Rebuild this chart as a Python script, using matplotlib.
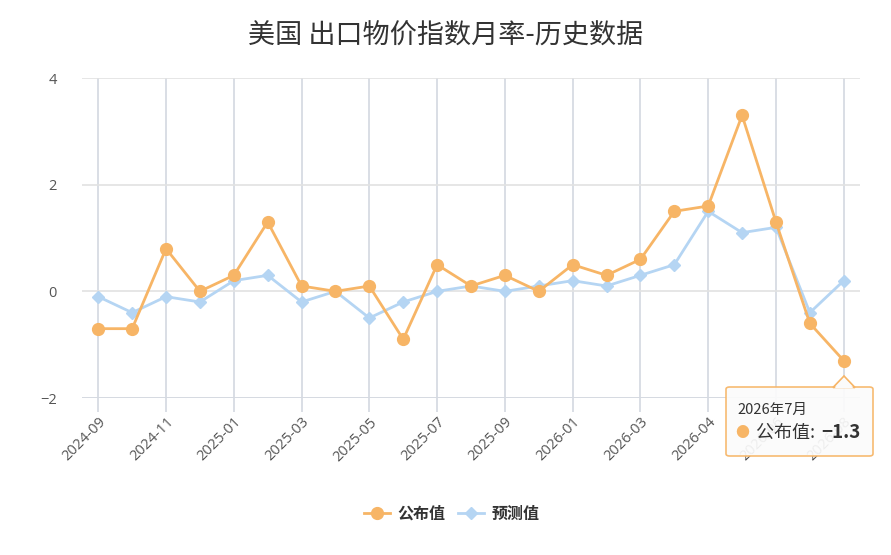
import matplotlib
matplotlib.use("Agg")
import matplotlib.pyplot as plt
from matplotlib.patches import FancyBboxPatch, Polygon
from matplotlib.lines import Line2D

plt.rcParams['font.family'] = ['Noto Sans CJK SC', 'DejaVu Sans']
plt.rcParams['axes.unicode_minus'] = True

categories = ["2024-09", "2024-10", "2024-11", "2024-12", "2025-01", "2025-02",
              "2025-03", "2025-04", "2025-05", "2025-06", "2025-07", "2025-08",
              "2025-09", "2025-10", "2026-01", "2026-02", "2026-03", "2026-03",
              "2026-04", "2026-05", "2026-06", "2026-07", "2026-08"]
published = [-0.7, -0.7, 0.8, 0.0, 0.3, 1.3, 0.1, 0.0, 0.1, -0.9, 0.5, 0.1,
             0.3, 0.0, 0.5, 0.3, 0.6, 1.5, 1.6, 3.3, 1.3, -0.6, -1.3]
forecast = [-0.1, -0.4, -0.1, -0.2, 0.2, 0.3, -0.2, 0.0, -0.5, -0.2, 0.0, 0.1,
            0.0, 0.1, 0.2, 0.1, 0.3, 0.5, 1.5, 1.1, 1.2, -0.4, 0.2]
yticks = [-2, 0, 2, 4]
title = "美国 出口物价指数月率-历史数据"
series_names = ["公布值", "预测值"]
tooltip_date = "2026年7月"

ORANGE = "#F7B566"
BLUE = "#B5D5F3"
W, H = 891, 555

fig = plt.figure(figsize=(W / 100, H / 100), dpi=100)
ax = fig.add_axes([82 / W, 1 - 398 / H, (860 - 82) / W, (398 - 78) / H])

x = list(range(len(categories)))
ax.plot(x, forecast, color=BLUE, lw=2, marker="D", ms=6.5, zorder=3)
ax.plot(x, published, color=ORANGE, lw=2, marker="o", ms=8.5, zorder=4)

ax.set_xlim(-0.48, len(categories) - 0.52)
ax.set_ylim(-2, 4)
ax.set_yticks(yticks)
ax.set_yticklabels([str(v).replace("-", "\u2212") for v in yticks])
ax.set_xticks(x[::2])
ax.set_xticklabels(categories[::2], rotation=45, ha="right", rotation_mode="anchor",
                   family=["Open Sans", "DejaVu Sans"])

ax.grid(True, axis="y", color="#e2e2e2", lw=1.2)
ax.grid(True, axis="x", color="#d3d8e0", lw=1.2)
ax.set_axisbelow(True)
for s in ax.spines.values():
    s.set_visible(False)
ax.tick_params(axis="x", length=10, color="#d3d8e0", width=1.2, pad=2,
               labelsize=10.5, labelcolor="#555555")
ax.tick_params(axis="y", length=0, pad=18, labelsize=10.5, labelcolor="#555555")
for lab in ax.get_yticklabels():
    lab.set_family(["Open Sans", "DejaVu Sans"])
ax.axhline(-2, color="#d3d8e0", lw=1.2, zorder=1)

fig.text(0.5, 1 - 35 / H, title, ha="center", va="center", fontsize=19.5, color="#333333")

handles = [Line2D([], [], color=ORANGE, lw=2, marker="o", ms=8.5),
           Line2D([], [], color=BLUE, lw=2, marker="D", ms=6.5)]
leg = fig.legend(handles, series_names, loc="center", bbox_to_anchor=(452 / W, 1 - 514 / H),
                 ncol=2, frameon=False, handlelength=1.6, columnspacing=0.8,
                 handletextpad=0.5, prop={"weight": "bold", "size": 11.5})
for t in leg.get_texts():
    t.set_color("#333333")

# tooltip
def fx(px):
    return px / W

def fy(py):
    return 1 - py / H

box = FancyBboxPatch((fx(726), fy(456)), fx(873) - fx(726), fy(387) - fy(456),
                     boxstyle="round,pad=0,rounding_size=0.004",
                     transform=fig.transFigure, facecolor="#fbfbfb", edgecolor=ORANGE,
                     lw=1.2, alpha=0.92, zorder=10)
fig.patches.append(box)
tri = Polygon([(fx(833), fy(387.5)), (fx(844), fy(376)), (fx(855), fy(387.5))],
              closed=True, transform=fig.transFigure, facecolor="#fbfbfb",
              edgecolor=ORANGE, lw=1.2, zorder=11)
fig.patches.append(tri)
cover = Polygon([(fx(834.5), fy(388.3)), (fx(844), fy(378)), (fx(853.5), fy(388.3))],
                closed=True, transform=fig.transFigure, facecolor="#fbfbfb",
                edgecolor="none", zorder=12)
fig.patches.append(cover)
fig.text(fx(737), fy(410), tooltip_date, ha="left", va="center", fontsize=10.5,
         color="#333333", zorder=13)
fig.text(fx(735), fy(433), "\u25CF", ha="left", va="center", fontsize=10,
         color=ORANGE, zorder=13)
fig.text(fx(756), fy(433), series_names[0] + ": ", ha="left", va="center", fontsize=13,
         color="#333333", zorder=13)
fig.text(fx(861), fy(433), f"{published[-1]}".replace("-", "\u2212"), ha="right",
         va="center", fontsize=13.5, weight="bold", color="#333333", zorder=13)

fig.savefig("out.png", dpi=100, facecolor="white")
